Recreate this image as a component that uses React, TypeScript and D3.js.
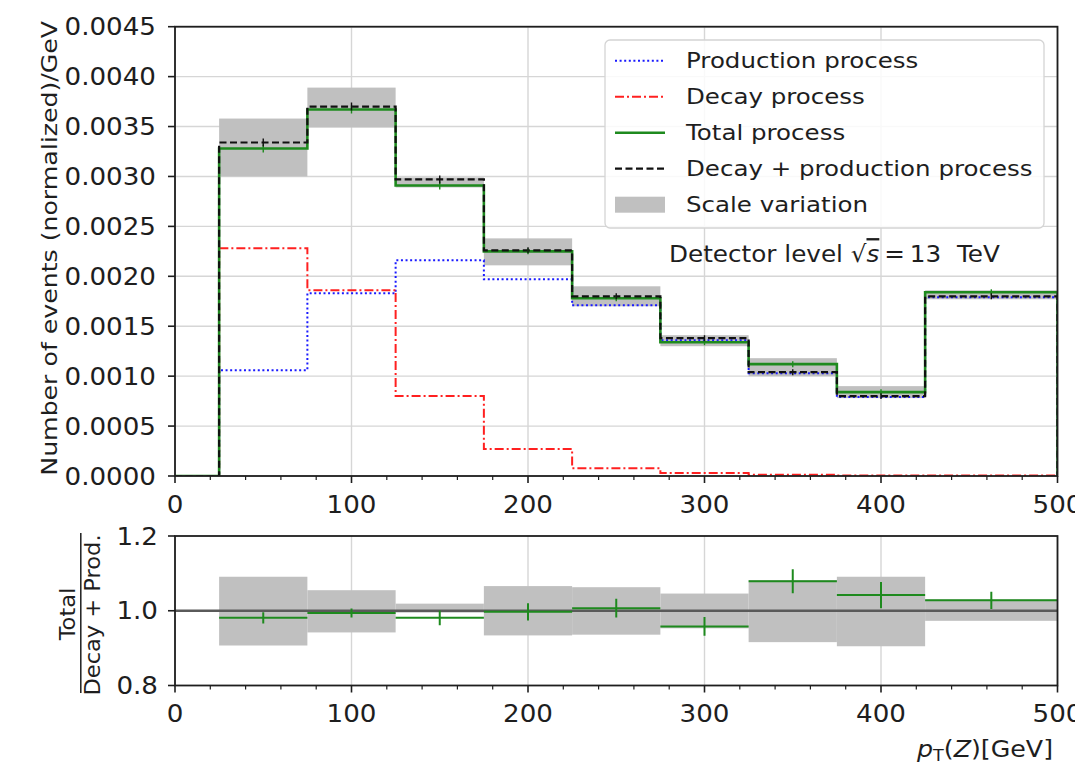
import React from "react";
import * as d3 from "d3";

// bin edges in pT(Z) [GeV]
const edges = [0, 25, 75, 125, 175, 225, 275, 325, 375, 425, 500];

// normalized distributions, one value per bin
const production = [0, 0.00106, 0.00183, 0.00216, 0.00197, 0.00171, 0.00136, 0.00103, 0.00079, 0.00179];
const decay = [0, 0.00228, 0.00186, 0.0008, 0.00027, 0.000077, 0.00003, 0.000012, 0.000006, 0.000004];
const total = [0, 0.00328, 0.00367, 0.00291, 0.00225, 0.00178, 0.00134, 0.00112, 0.00084, 0.00184];
const decayPlusProd = [0, 0.00334, 0.0037, 0.00297, 0.00226, 0.0018, 0.00138, 0.00104, 0.0008, 0.0018];
const mainErr = [0, 0.00004, 0.00004, 0.00004, 0.00003, 0.00003, 0.00003, 0.00003, 0.00003, 0.00003];
const scaleLow = [0, 0.003, 0.00349, 0.00289, 0.00211, 0.0017, 0.0013, 0.001, 0.00078, 0.00177];
const scaleHigh = [0, 0.00358, 0.00389, 0.00299, 0.00238, 0.0019, 0.00141, 0.00118, 0.0009, 0.00186];

// ratio panel, bins 25..500
const ratioCenters = [50, 100, 150, 200, 250, 300, 350, 400, 462.5];
const ratio = [0.981, 0.994, 0.981, 0.997, 1.007, 0.958, 1.079, 1.042, 1.028];
const ratioErr = [0.015, 0.012, 0.02, 0.023, 0.025, 0.025, 0.032, 0.035, 0.023];
const ratioBandLow = [0.907, 0.942, 0.995, 0.934, 0.936, 0.953, 0.916, 0.905, 0.973];
const ratioBandHigh = [1.091, 1.055, 1.019, 1.066, 1.063, 1.046, 1.082, 1.091, 1.03];

const legendItems = ["Production process", "Decay process", "Total process", "Decay + production process", "Scale variation"];

const FONT = "DejaVu Sans, Verdana, sans-serif";
const INK = "#1e1e1e";

const xMain = d3.scaleLinear().domain([0, 500]).range([175, 1057.5]);
const yMain = d3.scaleLinear().domain([0, 0.0045]).range([476, 26.7]);
const yRatio = d3.scaleLinear().domain([0.8, 1.2]).range([685.5, 536]);

const Txt = ({ x, y, size, sx = 1.1, rot = 0, anchor = "start", children }: any) => (
  <text
    transform={`translate(${x},${y}) rotate(${rot}) scale(${sx},1)`}
    fontSize={size}
    fontFamily={FONT}
    textAnchor={anchor}
    fill={INK}
  >
    {children}
  </text>
);

const stepPath = (vals: number[]) => {
  const pts: [number, number][] = vals.map((v, i) => [edges[i], v]);
  pts.push([500, vals[vals.length - 1]]);
  pts.push([500, 0]);
  return d3
    .line<[number, number]>()
    .x((d) => xMain(d[0]))
    .y((d) => yMain(d[1]))
    .curve(d3.curveStepAfter)(pts) as string;
};

const App = () => {
  const xTicks = xMain.ticks(5);
  const xMinor = d3.range(0, 501, 20).filter((v) => v % 100 !== 0);
  const yTicks = yMain.ticks(10);
  const rTicks = [0.8, 1.0, 1.2];
  const fmtY = d3.format(".4f");
  const fmtR = d3.format(".1f");

  const [mx0, mx1] = xMain.range();
  const [my0, my1] = yMain.range();
  const [ry0, ry1] = yRatio.range();

  const series = [
    { vals: production, color: "#1a1aff", w: 2, dash: "2,2.6" },
    { vals: decay, color: "#ff2020", w: 2, dash: "9,3,2,3" },
    { vals: total, color: "#1e8a1e", w: 2.6, dash: "none" },
    { vals: decayPlusProd, color: "#111", w: 2.2, dash: "7,3.5" },
  ];

  const xAxis = (yBase: number, labelY: number) => (
    <g>
      {xTicks.map((t) => (
        <g key={"M" + t}>
          <line x1={xMain(t)} x2={xMain(t)} y1={yBase} y2={yBase + 7} stroke={INK} strokeWidth={1.6} />
          <Txt x={xMain(t)} y={labelY} size={24} sx={1.09} anchor="middle">
            {t}
          </Txt>
        </g>
      ))}
      {xMinor.map((t) => (
        <line key={"m" + t} x1={xMain(t)} x2={xMain(t)} y1={yBase} y2={yBase + 4} stroke={INK} strokeWidth={1.2} />
      ))}
    </g>
  );

  return (
    <svg width={1075} height={776} style={{ position: "absolute", left: 0, top: 0, background: "#fff" }}>
      <defs>
        <clipPath id="clipMain">
          <rect x={mx0} y={my1} width={mx1 - mx0} height={my0 - my1} />
        </clipPath>
        <clipPath id="clipRatio">
          <rect x={mx0} y={ry1} width={mx1 - mx0} height={ry0 - ry1} />
        </clipPath>
      </defs>

      {/* main panel grid */}
      <g stroke="#d6d6d6" strokeWidth={1.4}>
        {xTicks.map((t) => (
          <line key={t} x1={xMain(t)} x2={xMain(t)} y1={my1} y2={my0} />
        ))}
        {yTicks.map((t) => (
          <line key={t} x1={mx0} x2={mx1} y1={yMain(t)} y2={yMain(t)} />
        ))}
      </g>

      <g clipPath="url(#clipMain)">
        {scaleLow.map((lo, i) =>
          scaleHigh[i] > lo ? (
            <rect
              key={i}
              x={xMain(edges[i])}
              width={xMain(edges[i + 1]) - xMain(edges[i])}
              y={yMain(scaleHigh[i])}
              height={yMain(lo) - yMain(scaleHigh[i])}
              fill="#c0c0c0"
            />
          ) : null
        )}
        {series.map((s, k) => (
          <path key={k} d={stepPath(s.vals)} fill="none" stroke={s.color} strokeWidth={s.w} strokeDasharray={s.dash} />
        ))}
        {[total, decayPlusProd].map((vals, k) =>
          vals.map((v, i) =>
            i > 0 ? (
              <line
                key={k + "-" + i}
                x1={xMain((edges[i] + edges[i + 1]) / 2)}
                x2={xMain((edges[i] + edges[i + 1]) / 2)}
                y1={yMain(v + mainErr[i])}
                y2={yMain(v - mainErr[i])}
                stroke={k === 0 ? "#1e8a1e" : "#111"}
                strokeWidth={1.4}
              />
            ) : null
          )
        )}
      </g>

      {/* main spines and ticks */}
      <rect x={mx0} y={my1} width={mx1 - mx0} height={my0 - my1} fill="none" stroke={INK} strokeWidth={1.8} />
      {yTicks.map((t) => (
        <g key={t}>
          <line x1={mx0 - 7} x2={mx0} y1={yMain(t)} y2={yMain(t)} stroke={INK} strokeWidth={1.6} />
          <Txt x={156} y={yMain(t) + 8.7} size={24} sx={1.09} anchor="end">
            {fmtY(t)}
          </Txt>
        </g>
      ))}
      {xAxis(my0, 513)}
      <Txt x={57} y={(my0 + my1) / 2 - 3} size={21} sx={1.2} rot={-90} anchor="middle">
        Number of events (normalized)/GeV
      </Txt>

      {/* legend */}
      <rect x={605} y={40} width={439} height={188} rx={5} fill="#fff" fillOpacity={0.85} stroke="#d4d4d4" strokeWidth={1.3} />
      {legendItems.map((name, i) => {
        const cy = 60.7 + i * 36;
        const s = series[i];
        return (
          <g key={name}>
            {i < 4 ? (
              <line x1={615} x2={665} y1={cy} y2={cy} stroke={s.color} strokeWidth={s.w} strokeDasharray={s.dash} />
            ) : (
              <rect x={615} y={cy - 8} width={50} height={16} fill="#c0c0c0" />
            )}
            <Txt x={686} y={cy + 7.6} size={21.5} sx={1.14}>
              {name}
            </Txt>
          </g>
        );
      })}
      <Txt x={669} y={261.5} size={23.5} sx={1.05}>
        Detector level √<tspan fontStyle="italic" textDecoration="overline">s</tspan>
        {"\u2009=\u200913\u00a0\u00a0TeV"}
      </Txt>

      {/* ratio panel */}
      <g stroke="#d6d6d6" strokeWidth={1.4}>
        {xTicks.map((t) => (
          <line key={t} x1={xMain(t)} x2={xMain(t)} y1={ry1} y2={ry0} />
        ))}
      </g>
      <g clipPath="url(#clipRatio)">
        {ratio.map((_, i) => (
          <rect
            key={i}
            x={xMain(edges[i + 1])}
            width={xMain(edges[i + 2]) - xMain(edges[i + 1])}
            y={yRatio(ratioBandHigh[i])}
            height={yRatio(ratioBandLow[i]) - yRatio(ratioBandHigh[i])}
            fill="#c0c0c0"
          />
        ))}
        <line x1={mx0} x2={mx1} y1={yRatio(1)} y2={yRatio(1)} stroke="#5a5a5a" strokeWidth={2.4} />
        {ratio.map((r, i) => (
          <g key={i} stroke="#1e8a1e" strokeWidth={2}>
            <line x1={xMain(edges[i + 1])} x2={xMain(edges[i + 2])} y1={yRatio(r)} y2={yRatio(r)} />
            <line
              x1={xMain(ratioCenters[i])}
              x2={xMain(ratioCenters[i])}
              y1={yRatio(r + ratioErr[i])}
              y2={yRatio(r - ratioErr[i])}
            />
          </g>
        ))}
      </g>
      <rect x={mx0} y={ry1} width={mx1 - mx0} height={ry0 - ry1} fill="none" stroke={INK} strokeWidth={1.8} />
      {rTicks.map((t) => (
        <g key={t}>
          <line x1={mx0 - 7} x2={mx0} y1={yRatio(t)} y2={yRatio(t)} stroke={INK} strokeWidth={1.6} />
          <Txt x={158} y={yRatio(t) + 8.7} size={24} sx={1.09} anchor="end">
            {fmtR(t)}
          </Txt>
        </g>
      ))}
      {xAxis(ry0, 722)}

      {/* ratio y label as a fraction */}
      <Txt x={75} y={614} size={20.5} sx={1.1} rot={-90} anchor="middle">
        Total
      </Txt>
      <line x1={80.8} x2={80.8} y1={533} y2={693} stroke={INK} strokeWidth={1.5} />
      <Txt x={100} y={615} size={20.5} sx={1.1} rot={-90} anchor="middle">
        Decay + Prod.
      </Txt>

      {/* x label */}
      <Txt x={1053} y={757} size={23} sx={1.1} anchor="end">
        <tspan fontStyle="italic">p</tspan>
        <tspan fontSize={16} dy={4}>T</tspan>
        <tspan dy={-4}>(</tspan>
        <tspan fontStyle="italic">Z</tspan>
        <tspan>)[GeV]</tspan>
      </Txt>
    </svg>
  );
};

export default App;
